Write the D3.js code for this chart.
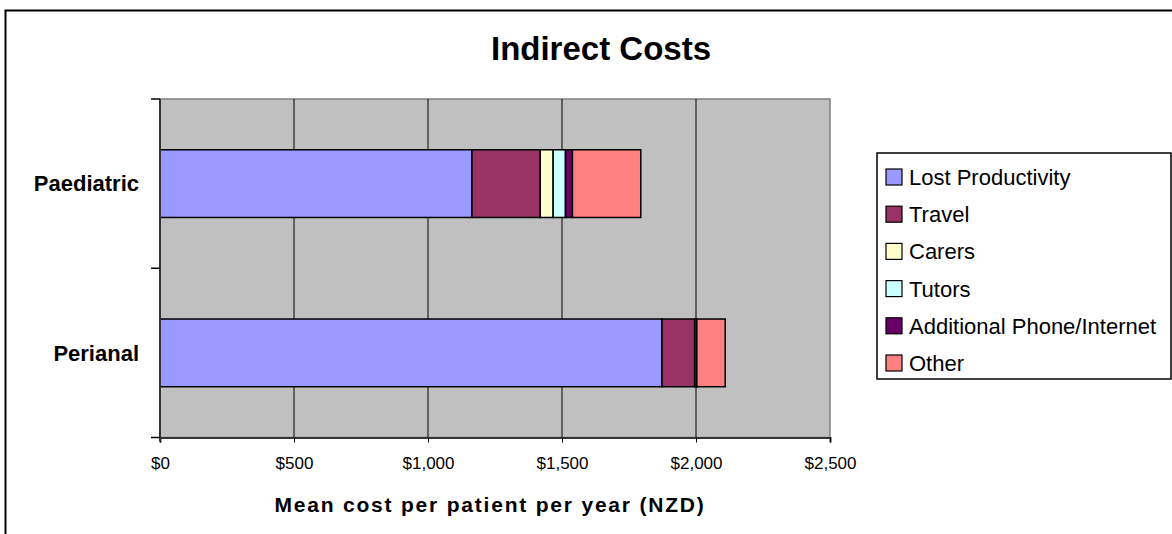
<!DOCTYPE html>
<html>
<head>
<meta charset="utf-8">
<script src="https://cdn.jsdelivr.net/npm/d3@7.9.0/dist/d3.min.js"></script>
<style>
  body { margin: 0; background: #fff; }
  svg { font-family: "Liberation Sans", Arial, sans-serif; }
</style>
</head>
<body>
<div id="chart"></div>
<script>
const categories = ["Paediatric", "Perianal"];
const seriesNames = ["Lost Productivity", "Travel", "Carers", "Tutors", "Additional Phone/Internet", "Other"];
const seriesColors = ["#9999FF", "#993366", "#FFFFCC", "#CCFFFF", "#660066", "#FF8080"];
const lostProductivity = [1164, 1873];
const travel = [255, 122];
const carers = [48, 0];
const tutors = [46, 0];
const phoneInternet = [26, 8];
const other = [255, 106];
const xTicks = [0, 500, 1000, 1500, 2000, 2500];

const width = 1172, height = 534;
const plot = { left: 160, right: 830, top: 99, bottom: 437.5 };

const svg = d3.select("#chart").append("svg")
    .attr("width", width)
    .attr("height", height);

// outer chart border
svg.append("rect")
    .attr("x", 5.5).attr("y", 10.5)
    .attr("width", 1200).attr("height", 540)
    .attr("fill", "#fff")
    .attr("stroke", "#000")
    .attr("stroke-width", 2);

const x = d3.scaleLinear().domain([0, 2500]).range([plot.left, plot.right]);
const y = d3.scaleBand().domain(categories)
    .range([plot.top, plot.bottom])
    .paddingInner(0.6)
    .paddingOuter(0.3);

// plot background
svg.append("rect")
    .attr("x", plot.left).attr("y", plot.top)
    .attr("width", plot.right - plot.left)
    .attr("height", plot.bottom - plot.top)
    .attr("fill", "#C0C0C0")
    .attr("stroke", "#808080")
    .attr("stroke-width", 1.5);

// vertical gridlines
svg.append("g")
    .selectAll("line")
    .data(xTicks.slice(1, -1))
    .enter().append("line")
    .attr("x1", d => x(d)).attr("x2", d => x(d))
    .attr("y1", plot.top).attr("y2", plot.bottom)
    .attr("stroke", "#000")
    .attr("stroke-width", 1);

// stacked data
const values = [lostProductivity, travel, carers, tutors, phoneInternet, other];
const rows = categories.map((c, i) => {
    const row = { category: c };
    seriesNames.forEach((s, j) => row[s] = values[j][i]);
    return row;
});
const stacked = d3.stack().keys(seriesNames)(rows);

const groups = svg.append("g")
    .selectAll("g")
    .data(stacked)
    .enter().append("g")
    .attr("fill", (d, i) => seriesColors[i]);

groups.selectAll("rect")
    .data(d => d.filter(p => p[1] - p[0] > 0))
    .enter().append("rect")
    .attr("x", d => x(d[0]))
    .attr("width", d => x(d[1]) - x(d[0]))
    .attr("y", d => y(d.data.category))
    .attr("height", y.bandwidth())
    .attr("stroke", "#000")
    .attr("stroke-width", 1.5);

// x axis
const xAxis = svg.append("g")
    .attr("transform", `translate(0,${plot.bottom})`)
    .call(d3.axisBottom(x)
        .tickValues(xTicks)
        .tickSize(5)
        .tickPadding(14)
        .tickFormat(d => "$" + d3.format(",")(d)));
xAxis.select(".domain").attr("stroke", "#333").attr("stroke-width", 2);
xAxis.selectAll(".tick line").attr("stroke", "#000");
xAxis.selectAll("text")
    .attr("fill", "#000")
    .style("font-family", "'Liberation Sans', Arial, sans-serif")
    .style("font-size", "17px");

// y axis: ticks at category boundaries
const yBounds = [plot.top, (plot.top + plot.bottom) / 2, plot.bottom];
svg.append("line")
    .attr("x1", plot.left).attr("x2", plot.left)
    .attr("y1", plot.top).attr("y2", plot.bottom + 4)
    .attr("stroke", "#333").attr("stroke-width", 2);
svg.append("g")
    .selectAll("line")
    .data(yBounds)
    .enter().append("line")
    .attr("x1", plot.left - 9).attr("x2", plot.left)
    .attr("y1", d => d).attr("y2", d => d)
    .attr("stroke", "#000").attr("stroke-width", 1.5);

svg.append("g")
    .selectAll("text")
    .data(categories)
    .enter().append("text")
    .attr("x", 139)
    .attr("y", d => y(d) + y.bandwidth() / 2)
    .attr("dy", "0.35em")
    .attr("text-anchor", "end")
    .style("font-size", "22px")
    .style("font-weight", "bold")
    .text(d => d);

// title
svg.append("text")
    .attr("x", 601).attr("y", 60)
    .attr("text-anchor", "middle")
    .style("font-size", "33px")
    .style("font-weight", "bold")
    .text("Indirect Costs");

// x axis title
svg.append("text")
    .attr("x", 490).attr("y", 512)
    .attr("text-anchor", "middle")
    .style("font-size", "21px")
    .style("font-weight", "bold")
    .style("letter-spacing", "1.8px")
    .text("Mean cost per patient per year (NZD)");

// legend
const legend = svg.append("g").attr("transform", "translate(877,153)");
legend.append("rect")
    .attr("x", 0).attr("y", 0)
    .attr("width", 294).attr("height", 226)
    .attr("fill", "#fff")
    .attr("stroke", "#000")
    .attr("stroke-width", 1.5);

const items = legend.selectAll("g.item")
    .data(seriesNames)
    .enter().append("g")
    .attr("class", "item")
    .attr("transform", (d, i) => `translate(0,${24 + i * 37.2})`);

items.append("rect")
    .attr("x", 9).attr("y", -8)
    .attr("width", 16).attr("height", 16)
    .attr("fill", (d, i) => seriesColors[i])
    .attr("stroke", "#000")
    .attr("stroke-width", 1.2);

items.append("text")
    .attr("x", 32)
    .attr("dy", "0.36em")
    .style("font-size", "22px")
    .text(d => d);
</script>
</body>
</html>
